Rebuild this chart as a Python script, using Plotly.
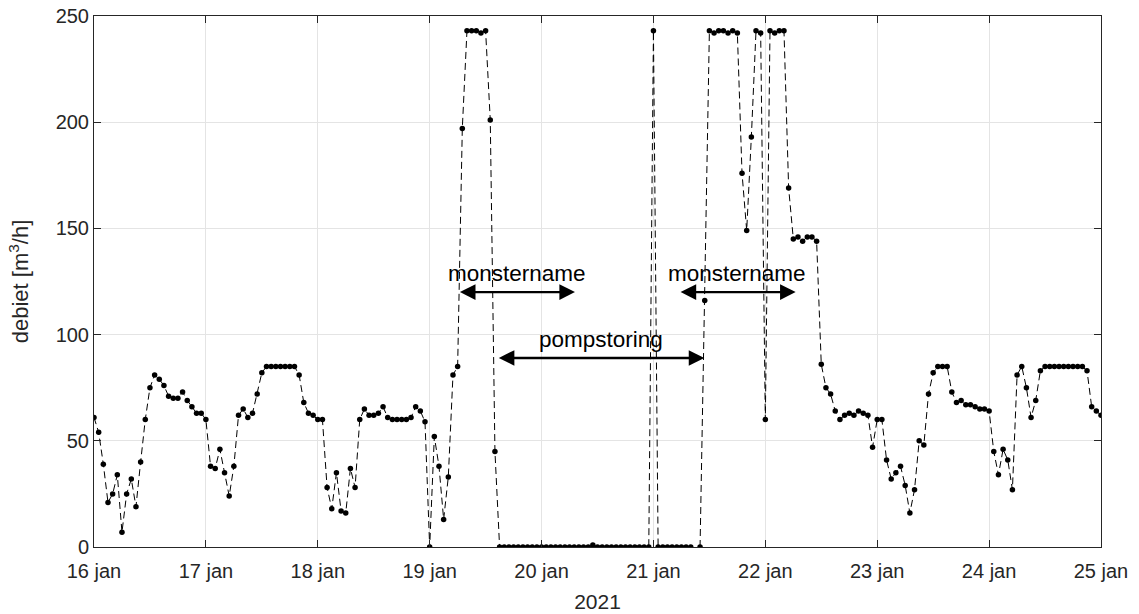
import pandas as pd
import plotly.graph_objects as go

# Hourly flow measurements, 16 jan 00:00 to 25 jan 00:00 (2021)
start_time = "2021-01-16 00:00"
debiet = [
    61, 54, 39, 21, 25, 34, 7, 25, 32, 19, 40, 60, 75, 81, 79, 76, 71, 70, 70, 73, 69, 66, 63, 63,
    60, 38, 37, 46, 35, 24, 38, 62, 65, 61, 63, 72, 82, 85, 85, 85, 85, 85, 85, 85, 81, 68, 63, 62,
    60, 60, 28, 18, 35, 17, 16, 37, 28, 60, 65, 62, 62, 63, 66, 61, 60, 60, 60, 60, 61, 66, 64, 59,
    0, 52, 38, 13, 33, 81, 85, 197, 243, 243, 243, 242, 243, 201, 45, 0, 0, 0, 0, 0, 0, 0, 0, 0,
    0, 0, 0, 0, 0, 0, 0, 0, 0, 0, 0, 1, 0, 0, 0, 0, 0, 0, 0, 0, 0, 0, 0, 0,
    243, 0, 0, 0, 0, 0, 0, 0, 0, None, 0, 116, 243, 242, 243, 243, 242, 243, 242, 176, 149, 193, 243, 242,
    60, 243, 242, 243, 243, 169, 145, 146, 144, 146, 146, 144, 86, 75, 72, 64, 60, 62, 63, 62, 64, 63, 62, 47,
    60, 60, 41, 32, 35, 38, 29, 16, 27, 50, 48, 72, 82, 85, 85, 85, 73, 68, 69, 67, 67, 66, 65, 65,
    64, 45, 34, 46, 41, 27, 81, 85, 75, 61, 69, 83, 85, 85, 85, 85, 85, 85, 85, 85, 85, 83, 66, 64,
    62,
]
tijd = pd.date_range(start_time, periods=len(debiet), freq="h")

# Axis ticks
x_tick_dates = pd.date_range("2021-01-16", "2021-01-25", freq="D")
x_tick_labels = ["16 jan", "17 jan", "18 jan", "19 jan", "20 jan",
                 "21 jan", "22 jan", "23 jan", "24 jan", "25 jan"]
y_ticks = [0, 50, 100, 150, 200, 250]

# Event markers: (label, start, end, level)
events = [
    ("monstername", "2021-01-19 06:10", "2021-01-20 07:10", 120),
    ("pompstoring", "2021-01-19 14:30", "2021-01-21 10:55", 89),
    ("monstername", "2021-01-21 05:30", "2021-01-22 06:30", 120),
]

AX_COL = "#262626"
GRID_COL = "#e4e4e4"
FONT = "Liberation Sans, Arial, sans-serif"

fig = go.Figure()
fig.add_trace(go.Scatter(
    x=tijd, y=debiet, mode="lines+markers",
    line=dict(color="#000000", width=1, dash="7px,4px"),
    marker=dict(color="#000000", size=5.5),
    connectgaps=False, showlegend=False,
))

for label, t0, t1, level in events:
    # double-headed arrow spanning the event period
    fig.add_annotation(
        x=t1, y=level, ax=t0, ay=level,
        xref="x", yref="y", axref="x", ayref="y",
        text="", showarrow=True, arrowside="end+start",
        arrowhead=2, startarrowhead=2, arrowsize=1.3, startarrowsize=1.3,
        arrowwidth=2.4, arrowcolor="#000000",
    )
    mid = pd.Timestamp(t0) + (pd.Timestamp(t1) - pd.Timestamp(t0)) / 2
    fig.add_annotation(
        x=mid, y=level, xref="x", yref="y", text=label, showarrow=False,
        yanchor="bottom", yshift=4,
        font=dict(family=FONT, size=22.5, color="#000000"),
    )

fig.update_layout(
    width=1139, height=614,
    margin=dict(l=94, r=38, t=16, b=67),
    paper_bgcolor="#ffffff", plot_bgcolor="#ffffff",
    font=dict(family=FONT, size=20, color=AX_COL),
)
fig.update_xaxes(
    range=[x_tick_dates[0], x_tick_dates[-1]],
    tickvals=x_tick_dates, ticktext=x_tick_labels,
    showgrid=True, gridcolor=GRID_COL, gridwidth=1,
    showline=True, linecolor=AX_COL, linewidth=1, mirror="ticks",
    ticks="inside", ticklen=7, tickcolor=AX_COL,
    ticklabelstandoff=6, automargin=False,
    zeroline=False,
    title=dict(text="2021", standoff=13, font=dict(size=21, color=AX_COL)),
)
fig.update_yaxes(
    range=[0, 250], tickvals=y_ticks,
    showgrid=True, gridcolor=GRID_COL, gridwidth=1,
    showline=True, linecolor=AX_COL, linewidth=1, mirror="ticks",
    ticks="inside", ticklen=7, tickcolor=AX_COL,
    automargin=False,
    zeroline=False,
    title=dict(text="debiet [m<sup>3</sup>/h]", standoff=20, font=dict(size=22, color=AX_COL)),
)

fig.write_html("out.html")
